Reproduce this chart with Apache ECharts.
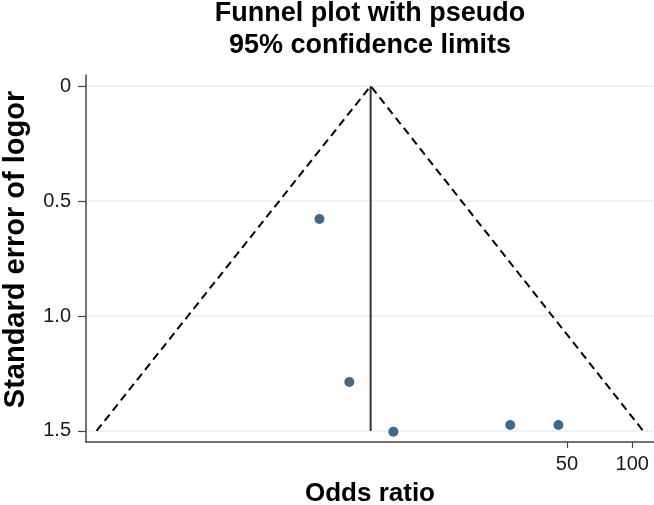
<!DOCTYPE html>
<html>
<head>
<meta charset="utf-8">
<script src="https://cdn.jsdelivr.net/npm/echarts@6/dist/echarts.min.js"></script>
<style>
html,body{margin:0;padding:0;background:#fff;}
#chart{width:654px;height:505px;}
</style>
</head>
<body>
<div id="chart"></div>
<script>
// Study estimates (odds ratio, standard error of log OR)
const studyOR = [3.62, 4.97, 7.93, 27.4, 45.7];
const studySE = [0.578, 1.287, 1.503, 1.474, 1.474];
// Pooled estimate (vertical line)
const pooledOR = 6.23;
const pooledSE = [0, 1.5];
// Pseudo 95% confidence limits (funnel)
const funnelOR = [0.34, 6.23, 112.4];
const funnelSE = [1.5, 0, 1.5];
// Axis ticks
const xTickValues = [50, 100];
const yTickValues = [0, 0.5, 1.0, 1.5];
const xRange = [0.304, 126];
const yRange = [-0.048, 1.548];

const lg = v => Math.log10(v);

const chart = echarts.init(document.getElementById('chart'), null, {renderer: 'canvas'});
const font = '"Liberation Sans", Arial, Helvetica, sans-serif';

chart.setOption({
  backgroundColor: '#ffffff',
  animation: false,
  title: {
    text: 'Funnel plot with pseudo\n95% confidence limits',
    left: 370,
    top: -2,
    padding: 0,
    textAlign: 'center',
    textStyle: {fontFamily: font, fontWeight: 'bold', fontSize: 27, lineHeight: 32, color: '#000'}
  },
  grid: {left: 86, right: 0, top: 75, bottom: 63, containLabel: false, outerBoundsMode: 'none'},
  xAxis: {
    type: 'value',
    position: 'bottom',
    min: lg(xRange[0]),
    max: lg(xRange[1]),
    name: 'Odds ratio',
    nameLocation: 'middle',
    nameGap: 39,
    nameTextStyle: {fontFamily: font, fontWeight: 'bold', fontSize: 26, color: '#000'},
    axisLine: {show: true, onZero: false, lineStyle: {color: '#444', width: 1.5}},
    axisTick: {show: true, length: 6, customValues: xTickValues.map(lg), lineStyle: {color: '#444', width: 1.2}},
    axisLabel: {
      show: true,
      customValues: xTickValues.map(lg),
      margin: 12,
      fontFamily: font, fontSize: 20, color: '#1a1a1a',
      formatter: v => String(Math.round(Math.pow(10, v)))
    },
    splitLine: {show: false}
  },
  yAxis: {
    type: 'value',
    position: 'left',
    inverse: true,
    min: yRange[0],
    max: yRange[1],
    name: 'Standard error of logor',
    nameLocation: 'middle',
    nameGap: 56,
    nameRotate: 90,
    nameTextStyle: {fontFamily: font, fontWeight: 'bold', fontSize: 29, color: '#000', padding: [0, 0, 0, 18]},
    axisLine: {show: true, onZero: false, lineStyle: {color: '#444', width: 1.5}},
    axisTick: {show: true, length: 8, customValues: yTickValues, lineStyle: {color: '#444', width: 1.2}},
    axisLabel: {
      show: true,
      customValues: yTickValues,
      margin: 15,
      fontFamily: font, fontSize: 20, color: '#1a1a1a',
      formatter: v => (v === 0 ? '0' : v.toFixed(1))
    },
    splitLine: {show: true, lineStyle: {color: '#e6eff1', width: 1.5}}
  },
  series: [
    {
      type: 'line',
      data: funnelOR.map((o, i) => [lg(o), funnelSE[i]]),
      symbol: 'none',
      lineStyle: {color: '#000', width: 2, type: [8, 5]},
      silent: true,
      z: 2
    },
    {
      type: 'line',
      data: pooledSE.map(s => [lg(pooledOR), s]),
      symbol: 'none',
      lineStyle: {color: '#333', width: 2},
      silent: true,
      z: 2
    },
    {
      type: 'scatter',
      data: studyOR.map((o, i) => [lg(o), studySE[i]]),
      symbol: 'circle',
      symbolSize: 10,
      itemStyle: {color: '#16416a'},
      z: 3
    }
  ]
});
</script>
</body>
</html>
